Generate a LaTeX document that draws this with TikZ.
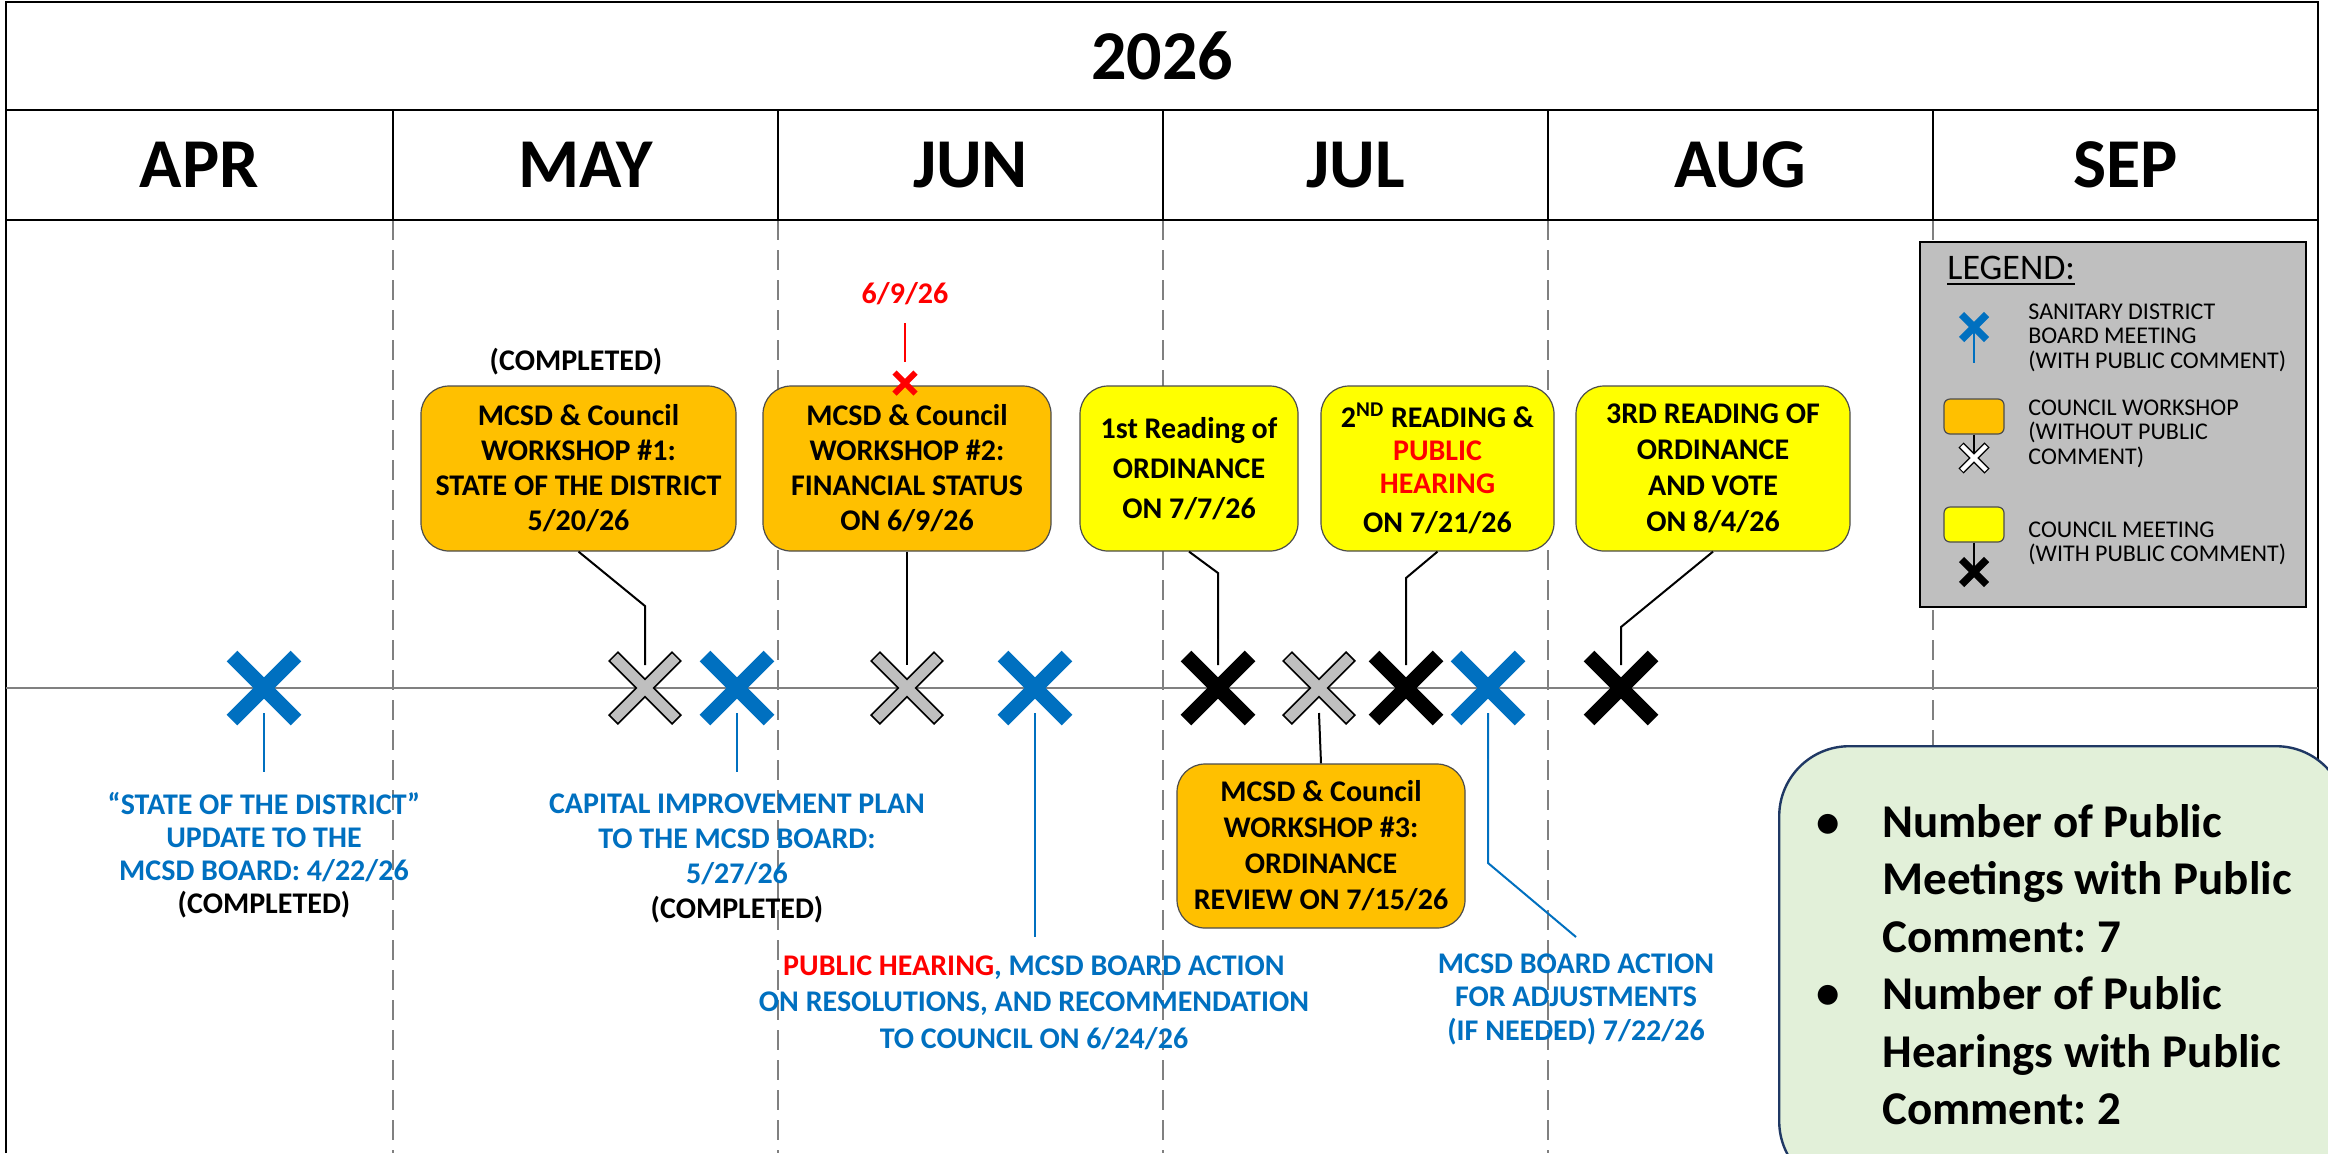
\documentclass[tikz,border=0pt]{standalone}
\usepackage{fontspec}
\setmainfont{Carlito}
\frenchspacing
\definecolor{cBlue}{HTML}{0070C0}
\definecolor{cOrange}{HTML}{FFC000}
\definecolor{cYellow}{HTML}{FFFF00}
\definecolor{cRed}{HTML}{FF0000}
\definecolor{cGray}{HTML}{BFBFBF}
\definecolor{cGreen}{HTML}{E2F0D9}
\definecolor{cNavy}{HTML}{1F3864}
\definecolor{cDash}{HTML}{808080}
\newcommand{\mkX}[4]{\draw[#3, line width=#4, shift={(#1)}] (-#2,-#2) -- (#2,#2) (-#2,#2) -- (#2,-#2);}
\newcommand{\mkGX}[6]{\draw[black, line width=#4, shift={(#1)}] (-#2,-#2) -- (#2,#2) (-#2,#2) -- (#2,-#2);
  \draw[#6, line width=#5, shift={(#1)}] (-#3,-#3) -- (#3,#3) (-#3,#3) -- (#3,-#3);}
\begin{document}
\frenchspacing
\begin{tikzpicture}[x=0.5pt,y=-0.5pt,
  frame/.style={line width=1.2pt, black},
  dashdiv/.style={cDash, line width=1pt, dash pattern=on 10pt off 5pt},
  tline/.style={cDash, line width=0.8pt},
  month/.style={anchor=base, inner sep=0pt, font=\bfseries\fontsize{35}{42}\selectfont},
  evbox/.style={rounded corners=14pt, draw=black!70, line width=0.6pt, inner sep=0pt, align=center,
     font=\bfseries\fontsize{15}{17.5}\selectfont, minimum height=82.5pt},
  wbox/.style={evbox, fill=cOrange},
  ybox/.style={evbox, fill=cYellow},
  conn/.style={black, line width=1pt},
  bconn/.style={cBlue, line width=1pt},
  lbl/.style={anchor=base, inner sep=0pt, text=cBlue},
  legtxt/.style={anchor=base west, inner sep=0pt, font=\fontsize{12}{12.25}\selectfont},
  legrect/.style={rounded corners=3pt, draw=black!70, line width=0.6pt, minimum width=30pt, minimum height=17.5pt, inner sep=0pt}
]
\useasboundingbox (0,0) rectangle (2328,1153);
\clip (0,0) rectangle (2328,1153);
\fill[white] (0,0) rectangle (2328,1153);

% dashed month dividers
\foreach \xx in {393,778,1163,1548,1933} \draw[dashdiv] (\xx,220) -- (\xx,1153);

% frame and header
\draw[frame] (6,1153) -- (6,2) -- (2318,2) -- (2318,1153);
\draw[frame] (6,110) -- (2318,110);
\draw[frame] (6,220) -- (2318,220);
\foreach \xx in {393,778,1163,1548,1933} \draw[frame] (\xx,110) -- (\xx,220);
\node[month] (title) at (1162,79) {2026};
\node[month] (mapr) at (199.5,187) {APR};
\node[month] (mmay) at (585.5,187) {MAY};
\node[month] (mjun) at (970.5,187) {JUN};
\node[month] (mjul) at (1355.5,187) {JUL};
\node[month] (maug) at (1740.5,187) {AUG};
\node[month] (msep) at (2125.5,187) {SEP};

% timeline
\coordinate (tl0) at (6,688);
\coordinate (tl1) at (2318,688);
\draw[tline] (tl0) -- (tl1);

% legend
\node[draw=black, line width=1.2pt, fill=cGray, minimum width=193pt, minimum height=182.5pt,
      anchor=north west, inner sep=0pt] (legend) at (1919,241) {};
\node[anchor=base west, inner sep=0pt, font=\fontsize{18}{20}\selectfont] (legt) at (1947,279) {LEGEND:};
\draw[line width=1pt] ([yshift=-2.5pt]legt.base west) -- ([yshift=-2.5pt]legt.base east);
\coordinate (lbx) at (1974,327);
\coordinate (lbe) at (1974,363);
\draw[bconn] (lbx) -- (lbe);
\mkX{lbx}{12.5}{cBlue}{3.7pt}
\node[legtxt] (leg1) at (2028,319) {\begin{tabular}[t]{@{}l@{}}SANITARY DISTRICT\\BOARD MEETING\\(WITH PUBLIC COMMENT)\end{tabular}};
\node[legrect, fill=cOrange] (lor) at (1974,416.5) {};
\coordinate (lgx) at (1974,458);
\draw[conn, line width=0.8pt] (lor.south) -- (lgx);
\mkGX{lgx}{13}{12.2}{3.6pt}{2.2pt}{white}
\node[legtxt] (leg2) at (2028,415) {\begin{tabular}[t]{@{}l@{}}COUNCIL WORKSHOP\\(WITHOUT PUBLIC\\COMMENT)\end{tabular}};
\node[legrect, fill=cYellow] (lye) at (1974,524.5) {};
\coordinate (lkx) at (1974,572);
\draw[conn, line width=0.8pt] (lye.south) -- (lkx);
\mkX{lkx}{12.5}{black}{3.7pt}
\node[legtxt] (leg3) at (2028,537) {\begin{tabular}[t]{@{}l@{}}COUNCIL MEETING\\(WITH PUBLIC COMMENT)\end{tabular}};

% event boxes
\node[wbox, minimum width=157.5pt] (W1) at (578.5,468.5) {MCSD \& Council\\WORKSHOP \#1:\\STATE OF THE DISTRICT\\5/20/26};
\node[wbox, minimum width=144pt] (W2) at (907,468.5) {MCSD \& Council\\WORKSHOP \#2:\\FINANCIAL STATUS\\ON 6/9/26};
\node[ybox, minimum width=109pt, font=\bfseries\fontsize{15}{20}\selectfont] (R1) at (1189,468.5) {1st Reading of\\ORDINANCE\\ON 7/7/26};
\node[ybox, minimum width=116.5pt, font=\bfseries\fontsize{15}{16.5}\selectfont] (R2) at (1437.5,468.5) {2\textsuperscript{ND} READING \&\\\textcolor{cRed}{PUBLIC}\\\textcolor{cRed}{HEARING}\\[3pt]ON 7/21/26};
\node[ybox, minimum width=137pt, font=\bfseries\fontsize{15}{18}\selectfont] (R3) at (1713,468.5) {3RD READING OF\\ORDINANCE\\AND VOTE\\ON 8/4/26};
\node[wbox, minimum width=144pt, minimum height=82pt, font=\bfseries\fontsize{15}{18}\selectfont] (W3) at (1321,846) {MCSD \& Council\\WORKSHOP \#3:\\ORDINANCE\\REVIEW ON 7/15/26};

\node[anchor=base, inner sep=0pt, font=\bfseries\fontsize{15}{18}\selectfont] (comp1) at (576,370) {(COMPLETED)};
\node[anchor=base, inner sep=0pt, text=cRed, font=\bfseries\fontsize{15}{18}\selectfont] (d69) at (905,303) {6/9/26};
\coordinate (r1) at (905,323);
\coordinate (rx) at (905,383);
\draw[cRed, line width=0.8pt] (r1) -- ([yshift=10.5pt]rx);
\mkX{rx}{10.5}{cRed}{3pt}

% markers on timeline
\coordinate (xb1) at (264,688);
\coordinate (xg1) at (645,688);
\coordinate (xb2) at (737,688);
\coordinate (xg2) at (907,688);
\coordinate (xb3) at (1035,688);
\coordinate (xk1) at (1218,688);
\coordinate (xg3) at (1319,688);
\coordinate (xk2) at (1406,688);
\coordinate (xb4) at (1488,688);
\coordinate (xk3) at (1621,688);

% connectors
\coordinate (k1) at (645,606);
\coordinate (k2) at (1218,573);
\coordinate (k3) at (1406,578);
\coordinate (k4) at (1621,627);
\draw[conn] (W1.south) -- (k1) -- ([yshift=11.5pt]xg1);
\draw[conn] (W2.south) -- ([yshift=11.5pt]xg2);
\draw[conn] (R1.south) -- (k2) -- ([yshift=11.5pt]xk1);
\draw[conn] (R2.south) -- (k3) -- ([yshift=11.5pt]xk2);
\draw[conn] (R3.south) -- (k4) -- ([yshift=11.5pt]xk3);
\draw[conn] ([yshift=-12.5pt]xg3) -- (W3.north);

\coordinate (e1) at (264,772);
\coordinate (e2) at (737,772);
\coordinate (e3) at (1035,937);
\coordinate (jb) at (1488,863);
\coordinate (e4) at (1576,937);
\draw[bconn] ([yshift=-12.5pt]xb1) -- (e1);
\draw[bconn] ([yshift=-12.5pt]xb2) -- (e2);
\draw[bconn] ([yshift=-12.5pt]xb3) -- (e3);
\draw[bconn] ([yshift=-12.5pt]xb4) -- (jb) -- (e4);

\mkX{xb1}{32}{cBlue}{7.5pt}
\mkGX{xg1}{32}{30.8}{7pt}{5.2pt}{cGray}
\mkX{xb2}{32}{cBlue}{7.5pt}
\mkGX{xg2}{32}{30.8}{7pt}{5.2pt}{cGray}
\mkX{xb3}{32}{cBlue}{7.5pt}
\mkX{xk1}{32}{black}{7.5pt}
\mkGX{xg3}{32}{30.8}{7pt}{5.2pt}{cGray}
\mkX{xk2}{32}{black}{7.5pt}
\mkX{xb4}{32}{cBlue}{7.5pt}
\mkX{xk3}{32}{black}{7.5pt}

% blue labels
\node[lbl, font=\bfseries\fontsize{15}{16.5}\selectfont] (L1) at (264,814) {\begin{tabular}[t]{@{}c@{}}“STATE OF THE DISTRICT”\\UPDATE TO THE\\MCSD BOARD: 4/22/26\\\color{black}(COMPLETED)\end{tabular}};
\node[lbl, font=\bfseries\fontsize{15}{17.5}\selectfont] (L2) at (737,813) {\begin{tabular}[t]{@{}c@{}}CAPITAL IMPROVEMENT PLAN\\TO THE MCSD BOARD:\\5/27/26\\\color{black}(COMPLETED)\end{tabular}};
\node[lbl, font=\bfseries\fontsize{15}{18.25}\selectfont] (L3) at (1034,975) {\begin{tabular}[t]{@{}c@{}}\textcolor{cRed}{PUBLIC HEARING}, MCSD BOARD ACTION\\ON RESOLUTIONS, AND RECOMMENDATION\\TO COUNCIL ON 6/24/26\end{tabular}};
\node[lbl, font=\bfseries\fontsize{15}{16.75}\selectfont] (L4) at (1576,973) {\begin{tabular}[t]{@{}c@{}}MCSD BOARD ACTION\\FOR ADJUSTMENTS\\(IF NEEDED) 7/22/26\end{tabular}};

% summary box
\node[draw=cNavy, line width=1.2pt, fill=cGreen, rounded corners=35pt, minimum width=283.5pt,
      minimum height=222.5pt, anchor=north west, inner sep=0pt] (gbox) at (1778,745) {};
\node[anchor=base, inner sep=0pt, font=\bfseries\fontsize{23.5}{28.75}\selectfont] (bul1) at (1828,837) {•};
\node[anchor=base, inner sep=0pt, font=\bfseries\fontsize{23.5}{28.75}\selectfont] (bul2) at (1828,1008) {•};
\node[anchor=base west, inner sep=0pt, font=\bfseries\fontsize{23.5}{28.75}\selectfont] (gtext) at (1882,837) {\begin{tabular}[t]{@{}l@{}}Number of Public\\Meetings with Public\\Comment: 7\\Number of Public\\Hearings with Public\\Comment: 2\end{tabular}};
\end{tikzpicture}
\end{document}
